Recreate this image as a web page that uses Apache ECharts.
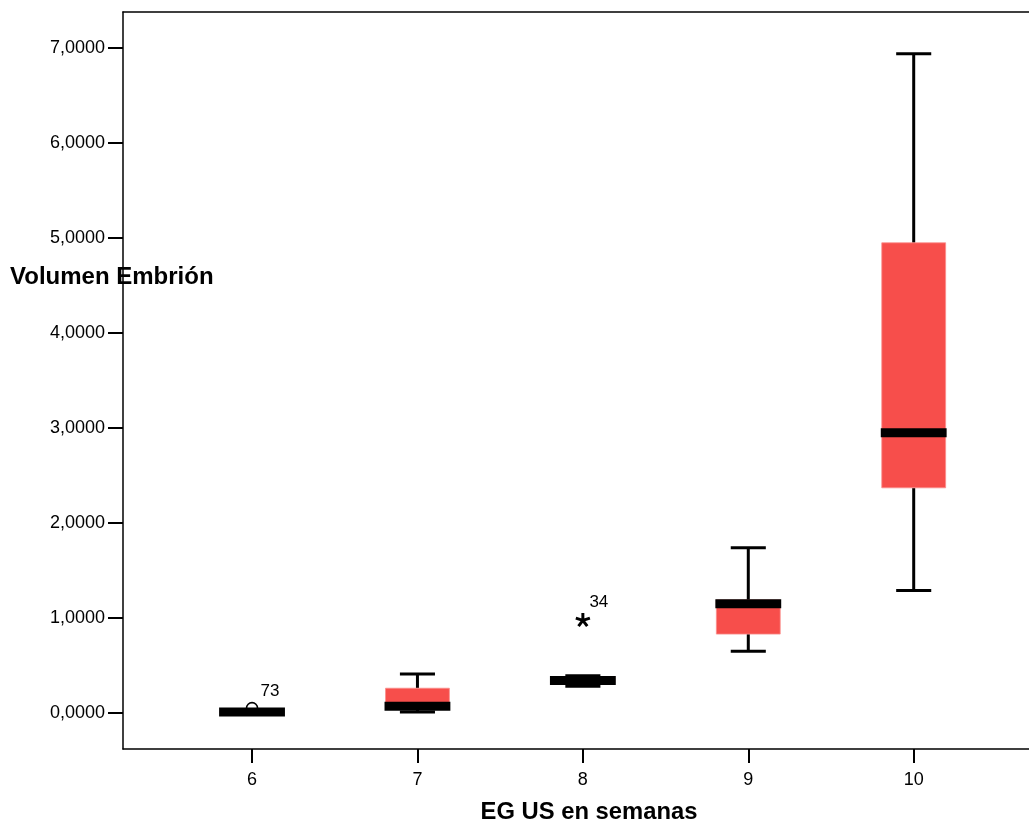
<!DOCTYPE html>
<html>
<head>
<meta charset="utf-8">
<title>Volumen Embrión por EG US en semanas</title>
<script src="https://cdn.jsdelivr.net/npm/echarts@6/dist/echarts.min.js"></script>
<style>
  html, body { margin: 0; padding: 0; background: #fff; overflow: hidden; }
  #chart { width: 1029px; height: 823px; }
</style>
</head>
<body>
<div id="chart"></div>
<script>
// Gestational age groups (weeks) and their box-plot statistics
const weeks       = [6, 7, 8, 9, 10];
const whiskerLow  = [0.00, 0.01, 0.28, 0.65, 1.29];
const q1          = [0.00, 0.04, 0.31, 0.83, 2.37];
const median      = [0.01, 0.07, 0.34, 1.15, 2.95];
const q3          = [0.02, 0.26, 0.37, 1.19, 4.95];
const whiskerHigh = [0.03, 0.41, 0.39, 1.74, 6.94];

// Outlying cases: circle = outlier, star = extreme value
const outlierWeek  = [6];
const outlierValue = [0.05];
const outlierCase  = ['73'];
const extremeWeek  = [8];
const extremeValue = [0.97];
const extremeCase  = ['34'];

const yTicks = [0, 1, 2, 3, 4, 5, 6, 7];
const xTicks = weeks;

const FONT = 'Arial, "Liberation Sans", sans-serif';
const BOX_FILL = '#f74e4b';

const boxRows = weeks.map((w, i) => [w, whiskerLow[i], q1[i], median[i], q3[i], whiskerHigh[i]]);

// five-armed asterisk used for extreme values
function starPath() {
  const L = 7, w = 1.4, parts = [];
  for (let k = 0; k < 5; k++) {
    const a = (-90 + 72 * k) * Math.PI / 180;
    const dx = Math.cos(a), dy = Math.sin(a);
    const px = -dy * w, py = dx * w;
    const pts = [[px, py], [dx * L + px, dy * L + py], [dx * L - px, dy * L - py], [-px, -py]];
    parts.push('M' + pts.map(p => (p[0] + 10).toFixed(2) + ' ' + (p[1] + 10).toFixed(2)).join(' L') + ' Z');
  }
  return 'path://' + parts.join(' ');
}

const chart = echarts.init(document.getElementById('chart'), null, { renderer: 'canvas' });

// the plot frame runs past the right edge of the page, so it stays open there
const X_MIN = 5.22, X_MAX = 11.9;

chart.setOption({
  backgroundColor: '#fff',
  animation: false,
  grid: {
    left: 123, top: 12, right: -199, bottom: 74,
    outerBoundsMode: 'none', containLabel: false, show: false
  },
  xAxis: [
    {
      type: 'value', min: X_MIN, max: X_MAX,
      axisLine: { show: true, onZero: false, lineStyle: { color: '#000', width: 1.5 } },
      axisTick: { show: true, length: 14, customValues: xTicks, lineStyle: { color: '#000', width: 2 } },
      axisLabel: { customValues: xTicks, margin: 22, color: '#000', fontSize: 18, fontFamily: FONT },
      splitLine: { show: false }
    },
    {
      // plain frame line along the top of the plot
      type: 'value', position: 'top', min: X_MIN, max: X_MAX,
      axisLine: { show: true, onZero: false, lineStyle: { color: '#000', width: 1.5 } },
      axisTick: { show: false }, axisLabel: { show: false }, splitLine: { show: false }
    }
  ],
  yAxis: {
    type: 'value', min: -0.38, max: 7.38,
    axisLine: { show: true, onZero: false, lineStyle: { color: '#000', width: 1.5 } },
    axisTick: { show: true, length: 15, customValues: yTicks, lineStyle: { color: '#000', width: 2 } },
    axisLabel: {
      customValues: yTicks, margin: 18, color: '#000', fontSize: 18, fontFamily: FONT,
      formatter: v => v.toFixed(4).replace('.', ',')
    },
    splitLine: { show: false }
  },
  graphic: [
    {
      type: 'text', z: -10,
      style: { text: 'Volumen Embrión', x: 10, y: 277, verticalAlign: 'middle',
               font: 'bold 24px ' + FONT, fill: '#000' }
    },
    {
      type: 'text',
      style: { text: 'EG US en semanas', x: 589, y: 812, align: 'center', verticalAlign: 'middle',
               font: 'bold 23.8px ' + FONT, fill: '#000' }
    }
  ],
  series: [
    {
      type: 'custom',
      data: boxRows,
      encode: { x: 0, y: [1, 2, 3, 4, 5] },
      z: 3,
      renderItem(params, api) {
        const x = api.value(0);
        const lo = api.coord([x, api.value(1)]);
        const b1 = api.coord([x, api.value(2)]);
        const md = api.coord([x, api.value(3)]);
        const b3 = api.coord([x, api.value(4)]);
        const hi = api.coord([x, api.value(5)]);
        const bw = api.size([0.386, 0])[0];
        const cw = api.size([0.212, 0])[0];
        const cx = md[0];
        const line = { stroke: '#000', lineWidth: 3, lineCap: 'butt' };
        return {
          type: 'group',
          children: [
            { type: 'line', shape: { x1: cx, y1: hi[1], x2: cx, y2: b3[1] }, style: line },
            { type: 'line', shape: { x1: cx, y1: lo[1], x2: cx, y2: b1[1] }, style: line },
            { type: 'line', shape: { x1: cx - cw / 2, y1: hi[1], x2: cx + cw / 2, y2: hi[1] }, style: line },
            { type: 'line', shape: { x1: cx - cw / 2, y1: lo[1], x2: cx + cw / 2, y2: lo[1] }, style: line },
            { type: 'rect', shape: { x: cx - bw / 2, y: b3[1], width: bw, height: b1[1] - b3[1] },
              style: { fill: BOX_FILL, stroke: '#fa8e8b', lineWidth: 0.8 } },
            { type: 'rect', shape: { x: cx - bw / 2 - 1, y: md[1] - 4.5, width: bw + 2, height: 9 },
              style: { fill: '#000' } }
          ]
        };
      }
    },
    {
      type: 'scatter',
      z: 4,
      data: outlierWeek.map((w, i) => ({ value: [w, outlierValue[i]], name: outlierCase[i] })),
      symbol: 'circle', symbolSize: 11,
      itemStyle: { color: 'rgba(0,0,0,0)', borderColor: '#000', borderWidth: 1.6, opacity: 1 },
      label: { show: true, position: 'inside', offset: [18, -17], formatter: p => p.name,
               color: '#000', textBorderWidth: 0, fontSize: 17, fontFamily: FONT },
      emphasis: { disabled: true }
    },
    {
      type: 'scatter',
      z: 4,
      data: extremeWeek.map((w, i) => ({ value: [w, extremeValue[i]], name: extremeCase[i] })),
      symbol: starPath(), symbolSize: [15, 14], symbolOffset: [0, -0.7],
      itemStyle: { color: '#000', opacity: 1 },
      label: { show: true, position: 'inside', offset: [16, -18], formatter: p => p.name,
               color: '#000', textBorderWidth: 0, fontSize: 17, fontFamily: FONT },
      emphasis: { disabled: true }
    }
  ]
});
</script>
</body>
</html>
